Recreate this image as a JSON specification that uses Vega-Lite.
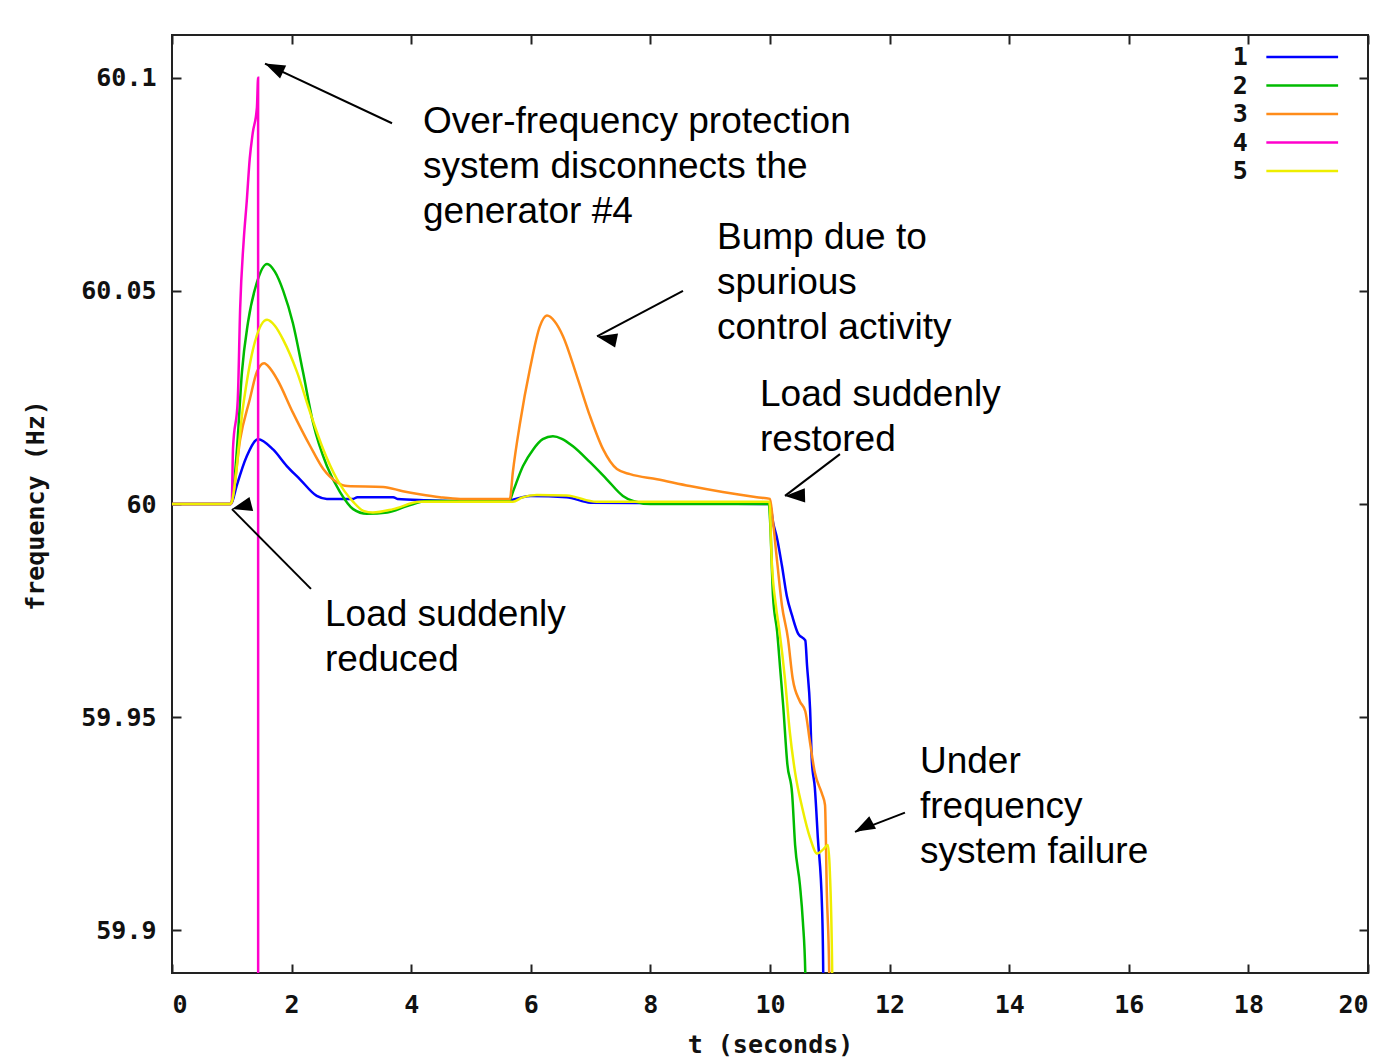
{
  "$schema": "https://vega.github.io/schema/vega-lite/v6.json",
  "width": 1196,
  "height": 938,
  "autosize": "none",
  "padding": {"left": 172, "top": 35, "right": 25, "bottom": 84},
  "background": "white",
  "config": {
    "view": {"stroke": "#222", "strokeWidth": 2},
    "axis": {"grid": false, "domain": false, "tickColor": "#222", "tickWidth": 2, "tickSize": -9, "labelFont": "DejaVu Sans Mono", "labelFontWeight": "bold", "labelFontSize": 25, "labelColor": "#111", "titleFont": "DejaVu Sans Mono", "titleFontWeight": "bold", "titleFontSize": 25, "titleColor": "#111"}
  },
  "datasets": {
    "freq": [
      {"s":"1","t":0,"f":60},{"s":"1","t":0.98,"f":60},{"s":"1","t":1.0,"f":60.0003},{"s":"1","t":1.08,"f":60.0042},{"s":"1","t":1.25,"f":60.0112},{"s":"1","t":1.44,"f":60.0152},{"s":"1","t":1.69,"f":60.0128},{"s":"1","t":1.92,"f":60.0089},{"s":"1","t":2.14,"f":60.0058},{"s":"1","t":2.42,"f":60.0019},{"s":"1","t":2.59,"f":60.0012},{"s":"1","t":3.03,"f":60.0012},{"s":"1","t":3.1,"f":60.0016},{"s":"1","t":3.7,"f":60.0016},{"s":"1","t":3.77,"f":60.0012},{"s":"1","t":4.27,"f":60.0009},{"s":"1","t":5.6,"f":60.0005},{"s":"1","t":5.7,"f":60.001},{"s":"1","t":6.0,"f":60.0019},{"s":"1","t":6.6,"f":60.0016},{"s":"1","t":7.0,"f":60.0003},{"s":"1","t":10.0,"f":60.0},{"s":"1","t":10.05,"f":59.9958},{"s":"1","t":10.12,"f":59.9918},{"s":"1","t":10.2,"f":59.9855},{"s":"1","t":10.28,"f":59.9785},{"s":"1","t":10.37,"f":59.9738},{"s":"1","t":10.47,"f":59.9696},{"s":"1","t":10.59,"f":59.968},{"s":"1","t":10.62,"f":59.962},{"s":"1","t":10.67,"f":59.952},{"s":"1","t":10.7,"f":59.9397},{"s":"1","t":10.75,"f":59.9334},{"s":"1","t":10.8,"f":59.9217},{"s":"1","t":10.87,"f":59.9054},{"s":"1","t":10.89,"f":59.89},{"s":"1","t":10.891,"f":59.85},
      {"s":"2","t":0,"f":60},{"s":"2","t":0.98,"f":60},{"s":"2","t":1.0,"f":60.0005},{"s":"2","t":1.09,"f":60.0136},{"s":"2","t":1.17,"f":60.031},{"s":"2","t":1.27,"f":60.0425},{"s":"2","t":1.42,"f":60.052},{"s":"2","t":1.59,"f":60.0563},{"s":"2","t":1.72,"f":60.0545},{"s":"2","t":1.86,"f":60.05},{"s":"2","t":2.02,"f":60.0425},{"s":"2","t":2.19,"f":60.031},{"s":"2","t":2.36,"f":60.019},{"s":"2","t":2.59,"f":60.0089},{"s":"2","t":2.81,"f":60.0028},{"s":"2","t":3.03,"f":59.9988},{"s":"2","t":3.26,"f":59.9977},{"s":"2","t":3.6,"f":59.998},{"s":"2","t":3.93,"f":59.9995},{"s":"2","t":4.27,"f":60.0007},{"s":"2","t":5.6,"f":60.0007},{"s":"2","t":5.65,"f":60.001},{"s":"2","t":5.7,"f":60.0028},{"s":"2","t":5.87,"f":60.0089},{"s":"2","t":6.04,"f":60.0128},{"s":"2","t":6.2,"f":60.0152},{"s":"2","t":6.37,"f":60.0159},{"s":"2","t":6.52,"f":60.0153},{"s":"2","t":6.7,"f":60.0136},{"s":"2","t":6.99,"f":60.0098},{"s":"2","t":7.27,"f":60.0058},{"s":"2","t":7.54,"f":60.0019},{"s":"2","t":7.71,"f":60.0007},{"s":"2","t":8.0,"f":60.0},{"s":"2","t":9.98,"f":60.0},{"s":"2","t":10.0,"f":59.9965},{"s":"2","t":10.05,"f":59.9785},{"s":"2","t":10.12,"f":59.97},{"s":"2","t":10.17,"f":59.9614},{"s":"2","t":10.22,"f":59.9528},{"s":"2","t":10.29,"f":59.939},{"s":"2","t":10.37,"f":59.932},{"s":"2","t":10.42,"f":59.92},{"s":"2","t":10.5,"f":59.9107},{"s":"2","t":10.55,"f":59.902},{"s":"2","t":10.59,"f":59.89},{"s":"2","t":10.591,"f":59.85},
      {"s":"3","t":0,"f":60},{"s":"3","t":0.98,"f":60},{"s":"3","t":1.0,"f":60.0005},{"s":"3","t":1.14,"f":60.0152},{"s":"3","t":1.3,"f":60.0245},{"s":"3","t":1.42,"f":60.031},{"s":"3","t":1.54,"f":60.033},{"s":"3","t":1.64,"f":60.0318},{"s":"3","t":1.76,"f":60.0292},{"s":"3","t":2.02,"f":60.0215},{"s":"3","t":2.31,"f":60.0136},{"s":"3","t":2.53,"f":60.0082},{"s":"3","t":2.76,"f":60.0051},{"s":"3","t":2.93,"f":60.0042},{"s":"3","t":3.53,"f":60.004},{"s":"3","t":3.86,"f":60.003},{"s":"3","t":4.14,"f":60.0023},{"s":"3","t":4.48,"f":60.0016},{"s":"3","t":4.82,"f":60.0012},{"s":"3","t":5.65,"f":60.0012},{"s":"3","t":5.7,"f":60.0075},{"s":"3","t":5.82,"f":60.019},{"s":"3","t":5.99,"f":60.032},{"s":"3","t":6.15,"f":60.0416},{"s":"3","t":6.27,"f":60.0442},{"s":"3","t":6.4,"f":60.0428},{"s":"3","t":6.54,"f":60.0393},{"s":"3","t":6.77,"f":60.03},{"s":"3","t":6.99,"f":60.0206},{"s":"3","t":7.21,"f":60.0128},{"s":"3","t":7.44,"f":60.0082},{"s":"3","t":7.66,"f":60.007},{"s":"3","t":8.11,"f":60.0058},{"s":"3","t":8.66,"f":60.0042},{"s":"3","t":9.21,"f":60.0028},{"s":"3","t":9.78,"f":60.0016},{"s":"3","t":10.0,"f":60.0012},{"s":"3","t":10.05,"f":59.9958},{"s":"3","t":10.12,"f":59.9864},{"s":"3","t":10.2,"f":59.9762},{"s":"3","t":10.3,"f":59.9685},{"s":"3","t":10.38,"f":59.959},{"s":"3","t":10.5,"f":59.9537},{"s":"3","t":10.59,"f":59.9514},{"s":"3","t":10.67,"f":59.944},{"s":"3","t":10.75,"f":59.937},{"s":"3","t":10.87,"f":59.932},{"s":"3","t":10.92,"f":59.9294},{"s":"3","t":10.95,"f":59.909},{"s":"3","t":10.99,"f":59.89},{"s":"3","t":10.991,"f":59.85},
      {"s":"4","t":0,"f":60},{"s":"4","t":0.98,"f":60},{"s":"4","t":1.0,"f":60.0005},{"s":"4","t":1.02,"f":60.013},{"s":"4","t":1.1,"f":60.0245},{"s":"4","t":1.14,"f":60.046},{"s":"4","t":1.2,"f":60.062},{"s":"4","t":1.25,"f":60.071},{"s":"4","t":1.3,"f":60.081},{"s":"4","t":1.35,"f":60.087},{"s":"4","t":1.42,"f":60.093},{"s":"4","t":1.44,"f":60.1},{"s":"4","t":1.441,"f":59.85},
      {"s":"5","t":0,"f":60},{"s":"5","t":0.98,"f":60},{"s":"5","t":1.0,"f":60.0005},{"s":"5","t":1.19,"f":60.023},{"s":"5","t":1.35,"f":60.036},{"s":"5","t":1.59,"f":60.0432},{"s":"5","t":1.72,"f":60.0418},{"s":"5","t":1.86,"f":60.0385},{"s":"5","t":2.09,"f":60.031},{"s":"5","t":2.31,"f":60.0215},{"s":"5","t":2.53,"f":60.0128},{"s":"5","t":2.76,"f":60.0058},{"s":"5","t":3.03,"f":60.0005},{"s":"5","t":3.2,"f":59.9984},{"s":"5","t":3.36,"f":59.998},{"s":"5","t":3.7,"f":59.9988},{"s":"5","t":4.14,"f":60.0005},{"s":"5","t":5.7,"f":60.0005},{"s":"5","t":5.85,"f":60.0015},{"s":"5","t":6.1,"f":60.0021},{"s":"5","t":6.6,"f":60.002},{"s":"5","t":7.1,"f":60.0005},{"s":"5","t":9.99,"f":60.0005},{"s":"5","t":10.03,"f":59.9864},{"s":"5","t":10.1,"f":59.976},{"s":"5","t":10.16,"f":59.97},{"s":"5","t":10.25,"f":59.959},{"s":"5","t":10.33,"f":59.9467},{"s":"5","t":10.42,"f":59.937},{"s":"5","t":10.54,"f":59.9287},{"s":"5","t":10.67,"f":59.9217},{"s":"5","t":10.79,"f":59.918},{"s":"5","t":10.89,"f":59.919},{"s":"5","t":10.97,"f":59.92},{"s":"5","t":11.0,"f":59.914},{"s":"5","t":11.04,"f":59.89},{"s":"5","t":11.041,"f":59.85}
    ],
    "notes": [
      {"label":["Over-frequency protection","system disconnects the","generator #4"],"t":4.197,"f":60.0871},
      {"label":["Bump due to","spurious","control activity"],"t":9.114,"f":60.0598},
      {"label":["Load suddenly","restored"],"t":9.833,"f":60.0229},
      {"label":["Load suddenly","reduced"],"t":2.559,"f":59.9715},
      {"label":["Under","frequency","system failure"],"t":12.508,"f":59.9369}
    ],
    "arrows": [
      {"id":"a","t":3.679,"f":60.0893,"t2":1.555,"f2":60.1033},
      {"id":"b","t":8.545,"f":60.05,"t2":7.107,"f2":60.0393},
      {"id":"c","t":11.17,"f":60.0117,"t2":10.251,"f2":60.0019},
      {"id":"d","t":2.324,"f":59.9801,"t2":1.003,"f2":59.9988},
      {"id":"e","t":12.257,"f":59.9276,"t2":11.421,"f2":59.9231}
    ],
    "legend": [{"s":"1"},{"s":"2"},{"s":"3"},{"s":"4"},{"s":"5"}]
  },
  "resolve": {"scale": {"y": "independent"}, "axis": {"x": "independent", "y": "independent"}},
  "layer": [
    {
      "data": {"name": "freq"},
      "mark": {"type": "line", "strokeWidth": 2.5, "clip": true, "interpolate": "monotone"},
      "encoding": {
        "x": {"field": "t", "type": "quantitative", "scale": {"domain": [0, 20], "nice": false, "zero": false},
              "axis": {"orient": "bottom", "values": [0,2,4,6,8,10,12,14,16,18,20], "format": "d", "labelPadding": 28, "title": "t (seconds)", "titleX": 598, "titleY": 79, "titleAlign": "center", "titleBaseline": "alphabetic", "titleAnchor": null}},
        "y": {"field": "f", "type": "quantitative", "scale": {"domain": [59.89, 60.11], "nice": false, "zero": false},
              "axis": {"orient": "left", "values": [59.9, 59.95, 60, 60.05, 60.1], "format": "~f", "labelPadding": 25, "title": "frequency (Hz)", "titleX": -137, "titleY": 470, "titleAlign": "center", "titleBaseline": "middle", "titleAngle": -90, "titleAnchor": null}},
        "color": {"field": "s", "type": "nominal", "scale": {"domain": ["1","2","3","4","5"], "range": ["#0000ff", "#00bb00", "#ff8c1a", "#ff00cc", "#eeee00"]}, "legend": null},
        "order": {"value": null}
      }
    },
    {
      "data": {"name": "notes"},
      "mark": {"type": "text", "font": "Liberation Sans", "fontSize": 37, "align": "left", "baseline": "alphabetic", "lineHeight": 45, "color": "#000"},
      "encoding": {
        "x": {"field": "t", "type": "quantitative", "scale": {"domain": [0, 20], "nice": false, "zero": false},
              "axis": {"orient": "top", "values": [0,2,4,6,8,10,12,14,16,18,20], "labels": false, "title": null}},
        "y": {"field": "f", "type": "quantitative", "scale": {"domain": [59.89, 60.11], "nice": false, "zero": false},
              "axis": {"orient": "right", "values": [59.9, 59.95, 60, 60.05, 60.1], "labels": false, "title": null}},
        "text": {"field": "label", "type": "nominal"}
      }
    },
    {
      "data": {"name": "arrows"},
      "mark": {"type": "rule", "strokeWidth": 2, "color": "#000"},
      "encoding": {
        "x": {"field": "t", "type": "quantitative", "axis": null},
        "y": {"field": "f", "type": "quantitative", "scale": {"domain": [59.89, 60.11], "nice": false, "zero": false}, "axis": null},
        "x2": {"field": "t2"},
        "y2": {"field": "f2"}
      }
    },
    {
      "data": {"name": "arrows"},
      "mark": {"type": "point", "shape": "M0,0L-0.36,1L0.36,1Z", "filled": true, "size": 1600, "opacity": 1, "color": "#000"},
      "encoding": {
        "x": {"field": "t2", "type": "quantitative", "axis": null},
        "y": {"field": "f2", "type": "quantitative", "scale": {"domain": [59.89, 60.11], "nice": false, "zero": false}, "axis": null},
        "angle": {"field": "id", "type": "nominal", "scale": {"domain": ["a","b","c","d","e"], "range": [295, 242, 233, 315, 249]}, "legend": null}
      }
    },
    {
      "data": {"name": "legend"},
      "mark": {"type": "rule", "strokeWidth": 2.5},
      "encoding": {
        "x": {"datum": 18.3, "type": "quantitative", "axis": null},
        "x2": {"datum": 19.5},
        "y": {"field": "s", "type": "quantitative", "scale": {"domain": [1, 5], "range": [22, 136], "nice": false, "zero": false}, "axis": null},
        "color": {"field": "s", "type": "nominal", "legend": null}
      }
    },
    {
      "data": {"name": "legend"},
      "mark": {"type": "text", "align": "right", "baseline": "middle", "font": "DejaVu Sans Mono", "fontWeight": "bold", "fontSize": 25, "color": "#111"},
      "encoding": {
        "x": {"datum": 17.99, "type": "quantitative", "axis": null},
        "y": {"field": "s", "type": "quantitative", "scale": {"domain": [1, 5], "range": [22, 136], "nice": false, "zero": false}, "axis": null},
        "text": {"field": "s", "type": "nominal"}
      }
    }
  ]
}
